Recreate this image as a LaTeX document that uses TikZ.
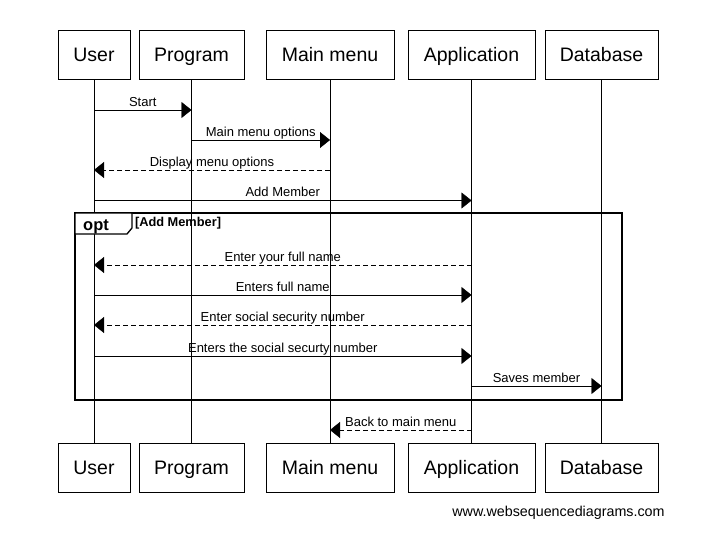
\documentclass[tikz,border=0pt]{standalone}
\usepackage{fontspec}
\setmainfont{Liberation Sans}
\usepackage{tikz}
\usetikzlibrary{calc,arrows.meta}

\begin{document}
\begin{tikzpicture}[x=1pt,y=-1pt,every node/.style={outer sep=0pt,inner sep=0pt}]
\tikzstyle{actor}=[draw,minimum height=49pt,text height=14pt,text depth=0pt,font=\fontsize{19.5}{22}\selectfont]
\tikzstyle{msg}=[-{Triangle[length=10pt,width=16pt]}]
\tikzstyle{reply}=[msg,dash pattern=on 5pt off 3pt]
\tikzstyle{lbl}=[anchor=base,yshift=4pt,font=\fontsize{13}{15}\selectfont]

\useasboundingbox (0,0) rectangle (709,543);

% participants, top and bottom
\node (userT) [actor,minimum width=72pt] at (94,54.5) {User};
\node (progT) [actor,minimum width=105pt] at (191.5,54.5) {Program};
\node (menuT) [actor,minimum width=128pt] at (330,54.5) {Main menu};
\node (appT) [actor,minimum width=127pt] at (471.5,54.5) {Application};
\node (dbT) [actor,minimum width=113pt] at (601.5,54.5) {Database};

\node (userB) [actor,minimum width=72pt] at (94,467.5) {User};
\node (progB) [actor,minimum width=105pt] at (191.5,467.5) {Program};
\node (menuB) [actor,minimum width=128pt] at (330,467.5) {Main menu};
\node (appB) [actor,minimum width=127pt] at (471.5,467.5) {Application};
\node (dbB) [actor,minimum width=113pt] at (601.5,467.5) {Database};

% lifelines
\draw (userT) -- (userB);
\draw (progT) -- (progB);
\draw (menuT) -- (menuB);
\draw (appT) -- (appB);
\draw (dbT) -- (dbB);

% opt frame
\coordinate (optNW) at (75,213);
\coordinate (optSE) at (622,400);
\draw [line width=2pt] (optNW) rectangle (optSE);
\draw [fill=white,line width=1.3pt] (optNW) -- ++(57,0) -- ++(0,15) -- ++(-5,6) -- ++(-52,0) -- cycle;
\node (opt) [font=\fontsize{16.5}{18}\selectfont\bfseries,anchor=base] at (96,230) {opt};
\node (guard) [font=\fontsize{12.8}{14}\selectfont\bfseries,anchor=base west] at (135,226.5) {[Add Member]};

% messages
\draw [msg] (userT |- 0,110) -- (progT |- 0,110) node [lbl,midway] {Start};
\draw [msg] (progT |- 0,140) -- (menuT |- 0,140) node [lbl,midway] {Main menu options};
\draw [reply] (menuT |- 0,170) -- (userT |- 0,170) node [lbl,midway] {Display menu options};
\draw [msg] (userT |- 0,200.5) -- (appT |- 0,200.5) node [lbl,midway] {Add Member};
\draw [reply] (appT |- 0,265) -- (userT |- 0,265) node [lbl,midway] {Enter your full name};
\draw [msg] (userT |- 0,295) -- (appT |- 0,295) node [lbl,midway] {Enters full name};
\draw [reply] (appT |- 0,325) -- (userT |- 0,325) node [lbl,midway] {Enter social security number};
\draw [msg] (userT |- 0,356) -- (appT |- 0,356) node [lbl,midway] {Enters the social securty number};
\draw [msg] (appT |- 0,386) -- (dbT |- 0,386) node [lbl,midway] {Saves member};
\draw [reply] (appT |- 0,430) -- (menuT |- 0,430) node [lbl,midway] {Back to main menu};

\node (credit) [anchor=base,font=\fontsize{14.3}{16}\selectfont] at (558.5,516) {www.websequencediagrams.com};
\end{tikzpicture}
\end{document}
